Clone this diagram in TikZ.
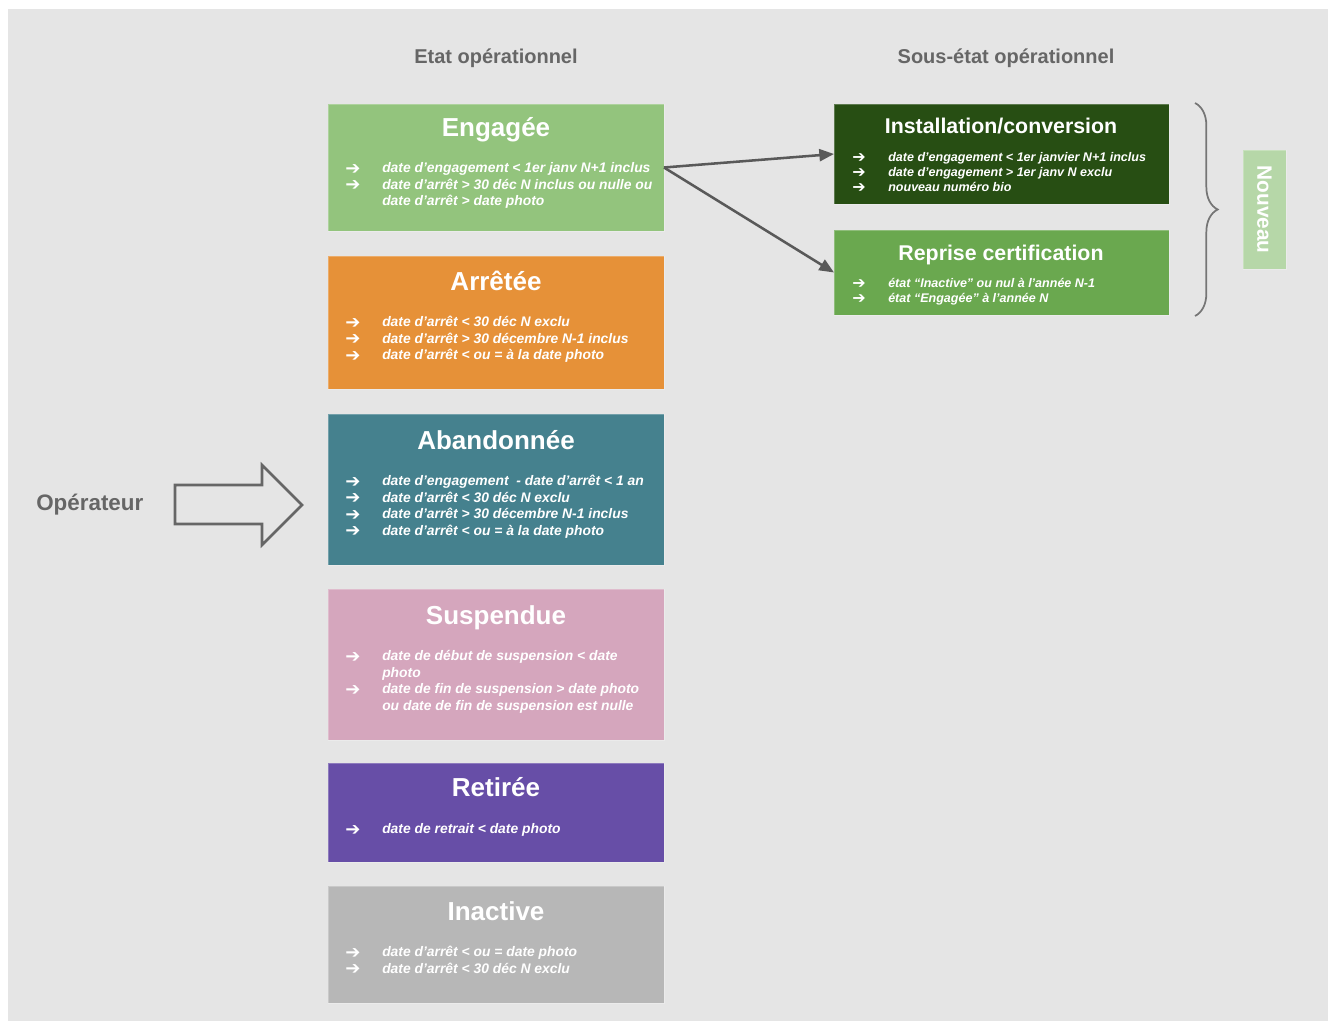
\documentclass[tikz,border=0pt]{standalone}
\usepackage{fontspec}
\setmainfont{Liberation Sans}
\newfontfamily\arrowfont{DejaVu Sans}
\usetikzlibrary{arrows.meta,fit,decorations.pathreplacing}
\definecolor{cBg}{HTML}{E5E5E5}
\definecolor{cHead}{HTML}{666666}
\definecolor{cEng}{HTML}{93C47D}
\definecolor{cArr}{HTML}{E69138}
\definecolor{cAba}{HTML}{45818E}
\definecolor{cSus}{HTML}{D5A6BD}
\definecolor{cRet}{HTML}{674EA7}
\definecolor{cIna}{HTML}{B7B7B7}
\definecolor{cIns}{HTML}{274E13}
\definecolor{cRep}{HTML}{6AA84F}
\definecolor{cNew}{HTML}{B6D7A8}
\definecolor{cConn}{HTML}{595959}
\newcommand\bl[3]{\node[bulA] (#1a) at (353,#2) {➔}; \node[btxt] (#1t) at (382,#2) {#3};}
\newcommand\blc[3]{\node[btxt] (#1t) at (382,#2) {#3};}
\newcommand\br[3]{\node[bulB] (#1a) at (859,#2) {➔}; \node[btxtS] (#1t) at (888,#2) {#3};}
\begin{document}
\begin{tikzpicture}[x=0.75pt,y=-0.75pt,
  box/.style={inner sep=0pt, outer sep=0pt, draw=white, draw opacity=0.25, line width=0.75pt},
  title/.style={text=white, font=\fontsize{19.5}{22}\selectfont\bfseries, anchor=base, inner sep=0pt},
  titleS/.style={text=white, font=\fontsize{16}{19}\selectfont\bfseries, anchor=base, inner sep=0pt},
  btxt/.style={text=white, font=\fontsize{10.4}{12}\selectfont\bfseries\itshape, anchor=base west, inner sep=0pt},
  btxtS/.style={text=white, font=\fontsize{9.4}{11}\selectfont\bfseries\itshape, anchor=base west, inner sep=0pt},
  bulA/.style={text=white, font=\arrowfont\fontsize{13.5}{14}\selectfont\bfseries, anchor=base, inner sep=0pt, yshift=-1.3pt},
  bulB/.style={text=white, font=\arrowfont\fontsize{12}{13}\selectfont\bfseries, anchor=base, inner sep=0pt, yshift=-1.1pt},
  head/.style={text=cHead, font=\fontsize{15}{18}\selectfont\bfseries, anchor=base, inner sep=0pt},
  conn/.style={draw=cConn, line width=1.9pt, -{Triangle[length=11pt,width=9pt]}},
]
\useasboundingbox (0,0) rectangle (1328,1021);
\fill[white] (0,0) rectangle (1328,1021);
\fill[cBg] (8,9) rectangle (1328,1021);

% headers
\node[head] (h1) at (496,63) {Etat opérationnel};
\node[head] (h2) at (1006,63) {Sous-état opérationnel};

% operator
\node[text=cHead, font=\fontsize{16.8}{20}\selectfont\bfseries, anchor=base west, inner sep=0pt] (op) at (36,510) {Opérateur};
\draw[cHead, line width=2pt, line join=miter] (175,485) -- (262,485) -- (262,465) -- (302,505) -- (262,545) -- (262,524) -- (175,524) -- cycle;

% left boxes
\node[box, fill=cEng, fit={(328,104) (664,231)}] (eng) {};
\node[title] (engT) at (496,136) {Engagée};
\bl{e1}{172.5}{date d’engagement < 1er janv N+1 inclus}
\bl{e2}{189}{date d’arrêt > 30 déc N inclus ou nulle ou}
\blc{e3}{205.5}{date d’arrêt > date photo}

\node[box, fill=cArr, fit={(328,256) (664,389)}] (arr) {};
\node[title] (arrT) at (496,290) {Arrêtée};
\bl{a1}{326.5}{date d’arrêt < 30 déc N exclu}
\bl{a2}{343}{date d’arrêt > 30 décembre N-1 inclus}
\bl{a3}{359.5}{date d’arrêt < ou = à la date photo}

\node[box, fill=cAba, fit={(328,414) (664,565)}] (aba) {};
\node[title] (abaT) at (496,449) {Abandonnée};
\bl{b1}{485.5}{date d’engagement \ - date d’arrêt < 1 an}
\bl{b2}{502}{date d’arrêt < 30 déc N exclu}
\bl{b3}{518.5}{date d’arrêt > 30 décembre N-1 inclus}
\bl{b4}{535}{date d’arrêt < ou = à la date photo}

\node[box, fill=cSus, fit={(328,589) (664,740)}] (sus) {};
\node[title] (susT) at (496,624) {Suspendue};
\bl{s1}{660.5}{date de début de suspension < date}
\blc{s2}{677}{photo}
\bl{s3}{693.5}{date de fin de suspension > date photo}
\blc{s4}{710}{ou date de fin de suspension est nulle}

\node[box, fill=cRet, fit={(328,763) (664,862)}] (ret) {};
\node[title] (retT) at (496,796) {Retirée};
\bl{r1}{833.5}{date de retrait < date photo}

\node[box, fill=cIna, fit={(328,886) (664,1003)}] (ina) {};
\node[title] (inaT) at (496,920) {Inactive};
\bl{i1}{956.5}{date d’arrêt < ou = date photo}
\bl{i2}{973}{date d’arrêt < 30 déc N exclu}

% right boxes
\node[box, fill=cIns, fit={(834,104) (1169,204)}] (inst) {};
\node[titleS] (instT) at (1001,133) {Installation/conversion};
\br{n1}{161}{date d’engagement < 1er janvier N+1 inclus}
\br{n2}{176}{date d’engagement > 1er janv N exclu}
\br{n3}{191}{nouveau numéro bio}

\node[box, fill=cRep, fit={(834,230) (1169,315)}] (rep) {};
\node[titleS] (repT) at (1001,260) {Reprise certification};
\br{p1}{287}{état “Inactive” ou nul à l’année N-1}
\br{p2}{302}{état “Engagée” à l’année N}

% connectors
\draw[conn] (eng.east) -- (inst.west);
\draw[conn] (eng.east) -- (rep.west);

% brace
\coordinate (brT) at (1195,103);
\coordinate (brB) at (1195,316);
\draw[cHead!90!white, line width=1.3pt, decorate, decoration={brace, amplitude=17pt}] (brT) -- (brB);

% nouveau
\node[box, fill=cNew, fit={(1243,150) (1286,269)}] (nou) {};
\node[text=white, font=\fontsize{15.6}{18}\selectfont\bfseries, rotate=-90, inner sep=0pt] (nouT) at (nou.center) {Nouveau};
\end{tikzpicture}
\end{document}
